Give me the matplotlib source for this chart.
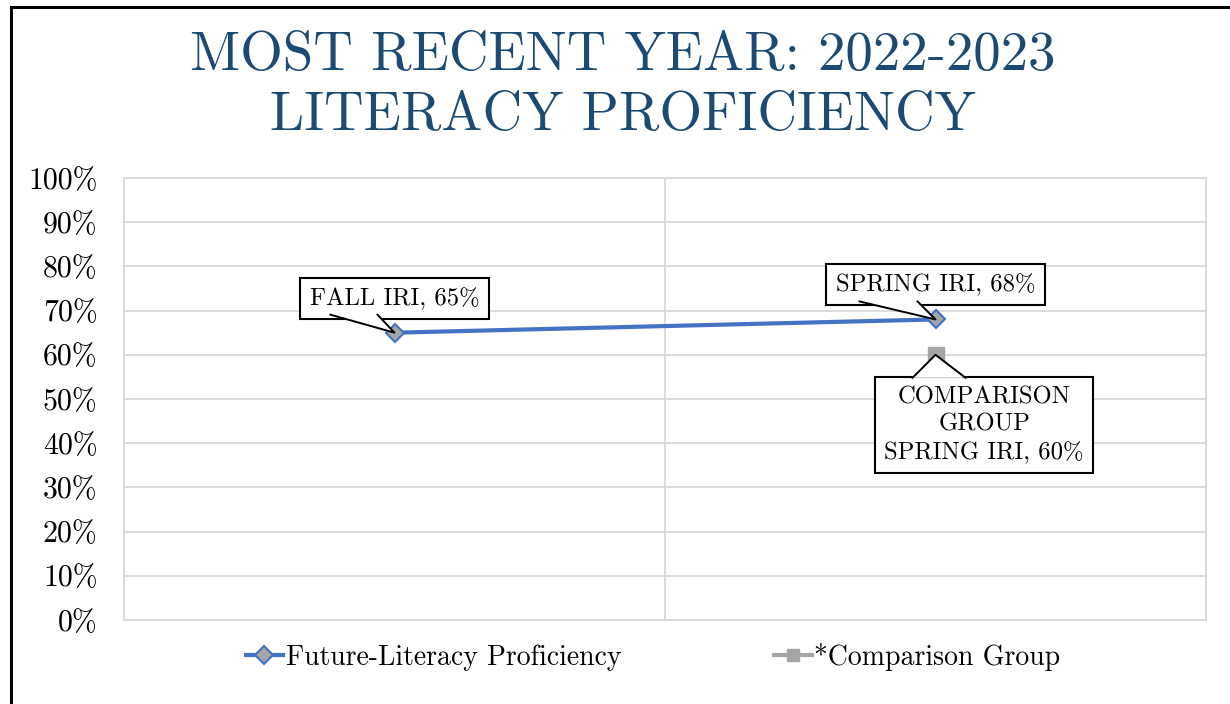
import matplotlib
matplotlib.use("Agg")
import matplotlib.pyplot as plt
from matplotlib.patches import Rectangle, Polygon
from matplotlib.lines import Line2D
from matplotlib.transforms import ScaledTranslation

plt.rcParams['font.family'] = ['cmr10', 'DejaVu Serif']

categories = ["Fall IRI", "Spring IRI"]
future_values = [65, 68]
comparison_values = [None, 60]
yticks = [0, 10, 20, 30, 40, 50, 60, 70, 80, 90, 100]
ytick_labels = [f"{v}%" for v in yticks]
series_names = ["Future-Literacy Proficiency", "*Comparison Group"]
point_labels = ["FALL IRI, 65%", "SPRING IRI, 68%"]
comparison_label = "COMPARISON\nGROUP\nSPRING IRI, 60%"
title = "MOST RECENT YEAR: 2022-2023\nLITERACY PROFICIENCY"

W, H = 1230, 704
fig = plt.figure(figsize=(W / 100, H / 100), dpi=100)
fig.patch.set_facecolor('white')

# outer border (top and left visible)
fig.add_artist(Rectangle((11 / W, -0.05), 1.2, 1 - 7 / H + 0.05, transform=fig.transFigure,
                         fill=False, ec='black', lw=2.2))

ax = fig.add_axes([124 / W, 1 - 620 / H, (1206 - 124) / W, (620 - 178) / H])
x = [0.5, 1.5]
grid_c = '#D9D9D9'
for sp in ax.spines.values():
    sp.set_color(grid_c)
    sp.set_linewidth(1.3)
ax.set_xlim(0, 2)
ax.set_ylim(0, 100)
ax.set_yticks(yticks)
ax.set_yticklabels(ytick_labels, fontsize=21.5)
ax.set_xticks([])
ax.tick_params(axis='y', length=0, pad=19)
ax.grid(axis='y', color=grid_c, lw=1.3)
ax.axvline(1, color=grid_c, lw=1.3)
ax.set_axisbelow(True)

blue = '#4472C4'
gray = '#A5A5A5'
ax.plot(x, future_values, color=blue, lw=3, marker='D', ms=9,
        mfc=gray, mec=blue, mew=1.5, zorder=5)
cx = [xi for xi, v in zip(x, comparison_values) if v is not None]
cv = [v for v in comparison_values if v is not None]
ax.plot(cx, cv, color=gray, lw=3, marker='s', ms=12, mfc=gray, mec=gray, zorder=4)

bbox = dict(boxstyle='square,pad=0.38', fc='white', ec='black', lw=1.5)


def callout(xd, yd, text, off_pt, base_px, **kw):
    """Text box offset from a data point with an Excel-style pointer."""
    ax.annotate(text, xy=(xd, yd), xytext=off_pt, textcoords='offset points',
                ha='center', va='center', fontsize=17.8, bbox=bbox, zorder=6, **kw)
    # pointer: tip at the data point, base (given in pixels relative to tip) inside the box edge
    tr = fig.dpi_scale_trans + ScaledTranslation(xd, yd, ax.transData)
    (b1x, b1y), (b2x, b2y) = base_px
    verts = [(0, 0), (b1x / 100, b1y / 100), (b2x / 100, b2y / 100)]
    ax.add_patch(Polygon(verts, closed=True, fc='white', ec='none', transform=tr, zorder=7))
    ax.add_line(Line2D([verts[1][0], 0, verts[2][0]], [verts[1][1], 0, verts[2][1]],
                       color='black', lw=1.4, transform=tr, zorder=7.5))


callout(x[0], future_values[0], point_labels[0], (0, 24.5), [(-64, 18), (-17, 18)])
callout(x[1], future_values[1], point_labels[1], (0, 25), [(-76, 18), (-18, 18)])
callout(cx[0], cv[0], comparison_label, (35, -50.5), [(-23, -23), (30, -23)], linespacing=1.32)

fig.text(0.506, 1 - 86 / H, title, ha='center', va='center', fontsize=39.5,
         color='#1B4A74', linespacing=1.28)

handles = [Line2D([], [], color=blue, lw=3, marker='D', ms=9, mfc=gray, mec=blue, mew=1.5),
           Line2D([], [], color=gray, lw=3, marker='s', ms=9, mfc=gray, mec=gray)]
fig.legend(handles, series_names, loc='center', bbox_to_anchor=(0.531, 1 - 657 / H), ncol=2,
           frameon=False, fontsize=20, handlelength=1.35, handletextpad=0.1, columnspacing=5.5)

fig.savefig('out.png', dpi=100)
